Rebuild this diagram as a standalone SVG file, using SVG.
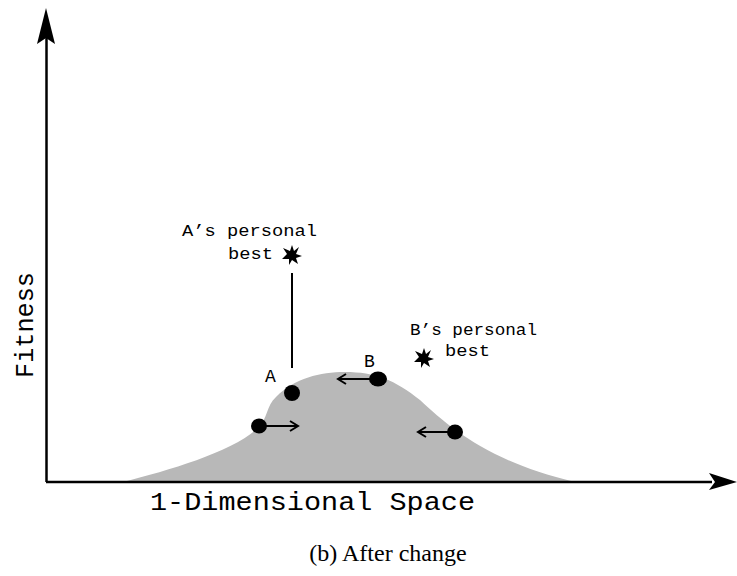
<svg xmlns="http://www.w3.org/2000/svg" width="737" height="576" viewBox="0 0 737 576">
<style>
.mono{font-family:"Liberation Mono","Courier New",monospace;fill:#000}
.lbl{font-size:16px}
.dot{fill:#000}
.arr{stroke:#000;stroke-width:2;fill:none}
.axis{stroke:#000;stroke-width:2.5;fill:none}
</style>
<defs>
<polygon id="star" points="0,-10 2,-4 7,-8 4,-1 10,1 4,3 6,9 0,5 -3,10 -3,4 -10,4 -5,-1 -9,-7 -2,-4"/>
</defs>
<rect width="737" height="576" fill="#fff"/>
<g id="hill"><path d="M123,482 C170,470 232,452 258,428 C268,418 266,406 276,397 C295,378 320,372 345,372 C375,372 395,380 420,400 C450,428 490,462 575,482 Z" fill="#b8b8b8"/></g>
<g id="axes">
<line class="axis" x1="46.5" y1="482" x2="46.5" y2="36"/>
<polygon points="46,8 55,44 46,38 37,44" fill="#000"/>
<line class="axis" x1="46" y1="482" x2="712" y2="482"/>
<polygon points="737,482 709,473 715,482 709,490" fill="#000"/>
</g>
<g id="connectors">
<line x1="292" y1="273" x2="292" y2="368" stroke="#000" stroke-width="2"/>
<path class="arr" d="M259,426 H298 M290,421 L298,426 L290,431"/>
<path class="arr" d="M378,379 H338 M346,374 L338,379 L346,384"/>
<path class="arr" d="M455,432 H418 M426,427 L418,432 L426,437"/>
</g>
<g id="particleA"><ellipse class="dot" cx="292" cy="393" rx="8" ry="8"/><text class="mono" font-size="18" x="265" y="382">A</text></g>
<g id="particleB"><ellipse class="dot" cx="378" cy="379" rx="9" ry="7.5"/><text class="mono" font-size="18" x="364" y="367">B</text></g>
<g id="particle3"><ellipse class="dot" cx="259" cy="426" rx="8" ry="7.5"/></g>
<g id="particle4"><ellipse class="dot" cx="455" cy="432" rx="8" ry="7.5"/></g>
<g id="bestA">
<use href="#star" x="292" y="255"/>
<text class="mono lbl" x="182" y="236" textLength="135" lengthAdjust="spacingAndGlyphs">A’s personal</text>
<text class="mono lbl" x="228" y="259" textLength="45" lengthAdjust="spacingAndGlyphs">best</text>
</g>
<g id="bestB">
<use href="#star" x="424" y="358"/>
<text class="mono lbl" x="410" y="335" textLength="127" lengthAdjust="spacingAndGlyphs">B’s personal</text>
<text class="mono lbl" x="445" y="356" textLength="45" lengthAdjust="spacingAndGlyphs">best</text>
</g>
<text class="mono" x="150" y="510" font-size="25" textLength="325" lengthAdjust="spacingAndGlyphs">1-Dimensional Space</text>
<text class="mono" transform="translate(33,378) rotate(-90)" font-size="25" textLength="106" lengthAdjust="spacingAndGlyphs">Fitness</text>
<text x="388" y="561" font-family="'Liberation Serif','Times New Roman',serif" font-size="24" text-anchor="middle">(b) After change</text>
</svg>
